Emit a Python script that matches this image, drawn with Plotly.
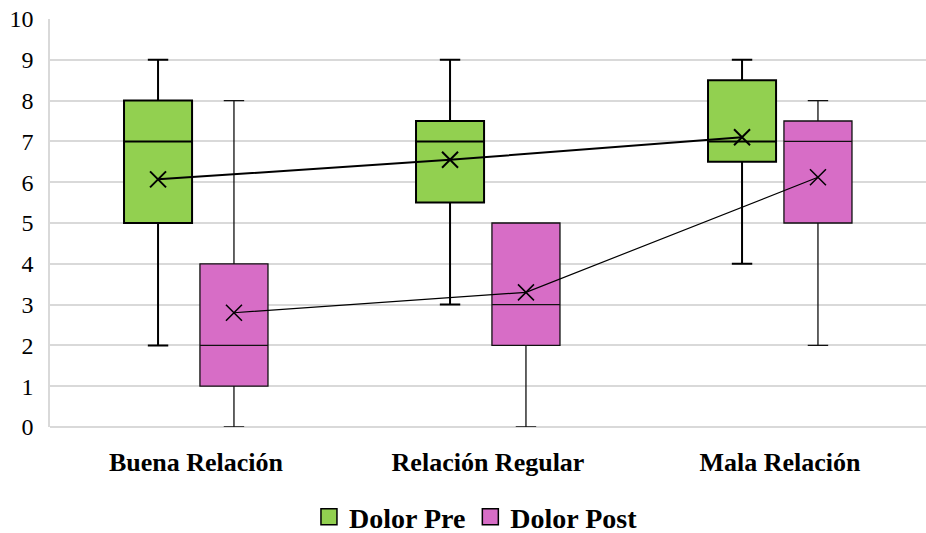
import numpy as np
import plotly.graph_objects as go

categories = ["Buena Relación", "Relación Regular", "Mala Relación"]
series_names = ["Dolor Pre", "Dolor Post"]

# Dolor Pre (five-number summary + mean per category)
pre_min = [2, 3, 4]
pre_q1 = [5, 5.5, 6.5]
pre_median = [7, 7, 7]
pre_q3 = [8, 7.5, 8.5]
pre_max = [9, 9, 9]
pre_mean = [6.07, 6.55, 7.1]

# Dolor Post
post_min = [0, 0, 2]
post_q1 = [1, 2, 5]
post_median = [2, 3, 7]
post_q3 = [4, 5, 7.5]
post_max = [8, 5, 8]
post_mean = [2.8, 3.3, 6.12]

idx = np.arange(len(categories))
offset = 0.13
box_w = 0.233

pre_x = idx - offset
post_x = idx + offset

GREEN = "#92D050"
PINK = "#D76DC6"
SERIF = "Liberation Serif"

fig = go.Figure()

fig.add_trace(go.Box(
    name=series_names[0], x=pre_x, showlegend=False,
    lowerfence=pre_min, q1=pre_q1, median=pre_median, q3=pre_q3, upperfence=pre_max,
    fillcolor=GREEN, line=dict(color="black", width=2),
    width=box_w, whiskerwidth=0.3, boxpoints=False,
))
fig.add_trace(go.Box(
    name=series_names[1], x=post_x, showlegend=False,
    lowerfence=post_min, q1=post_q1, median=post_median, q3=post_q3, upperfence=post_max,
    fillcolor=PINK, line=dict(color="#111111", width=1.3),
    width=box_w, whiskerwidth=0.3, boxpoints=False,
))

# Mean markers joined across categories
fig.add_trace(go.Scatter(
    x=pre_x, y=pre_mean, mode="lines+markers", showlegend=False,
    line=dict(color="black", width=2),
    marker=dict(symbol="x-thin-open", size=16, line=dict(color="black", width=2)),
))
fig.add_trace(go.Scatter(
    x=post_x, y=post_mean, mode="lines+markers", showlegend=False,
    line=dict(color="black", width=1.2),
    marker=dict(symbol="x-thin-open", size=16, line=dict(color="black", width=1.5)),
))

# Square legend keys for the two series
for name, color in zip(series_names, [GREEN, PINK]):
    fig.add_trace(go.Scatter(
        x=[None], y=[None], mode="markers", name=name,
        marker=dict(symbol="square", size=19, color=color,
                    line=dict(color="black", width=1.5)),
    ))

fig.update_layout(
    width=926, height=533,
    margin=dict(l=50, r=0, t=19, b=106, autoexpand=False),
    paper_bgcolor="white", plot_bgcolor="white",
    font=dict(family=SERIF, color="black"),
    showlegend=True,
    legend=dict(
        orientation="h", xref="container", x=0.514, xanchor="center",
        yref="container", y=0.03, yanchor="middle",
        font=dict(family=SERIF, size=28, weight="bold", color="black"),
        itemwidth=30, itemsizing="trace", entrywidthmode="pixels",
    ),
    xaxis=dict(
        range=[-0.5, 2.5], tickvals=idx, ticktext=categories,
        tickfont=dict(family=SERIF, size=26, weight="bold", color="black"),
        ticks="outside", ticklen=12, tickcolor="rgba(0,0,0,0)",
        showgrid=False, zeroline=False, showline=False, automargin=False,
    ),
    yaxis=dict(
        range=[0, 10], dtick=1, automargin=False,
        tickfont=dict(family=SERIF, size=24, color="black"),
        ticks="outside", ticklen=10, tickcolor="rgba(0,0,0,0)",
        showgrid=True, gridcolor="#D9D9D9", gridwidth=1.5,
        zeroline=True, zerolinecolor="#D9D9D9", zerolinewidth=1.5,
        showline=True, linecolor="#D9D9D9", linewidth=1.5,
    ),
)

fig.write_html("out.html")
